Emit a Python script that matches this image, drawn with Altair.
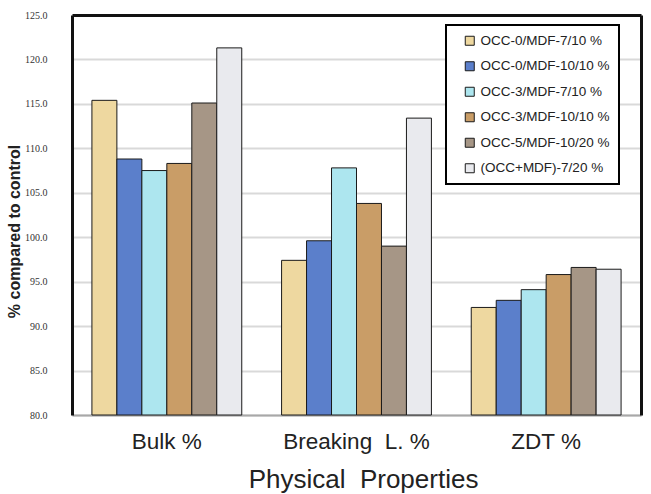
import altair as alt
import pandas as pd

# Physical property groups on the x axis (no-break space keeps the wide gap)
properties = ["Bulk %", "Breaking\u00a0 L. %", "ZDT %"]

# Furnish treatments (legend order)
treatments = [
    "OCC-0/MDF-7/10 %",
    "OCC-0/MDF-10/10 %",
    "OCC-3/MDF-7/10 %",
    "OCC-3/MDF-10/10 %",
    "OCC-5/MDF-10/20 %",
    "(OCC+MDF)-7/20 %",
]

# Values relative to control, one list per property (in treatment order)
bulk = [115.4, 108.8, 107.5, 108.3, 115.1, 121.3]
breaking = [97.4, 99.6, 107.8, 103.8, 99.0, 113.4]
zdt = [92.1, 92.9, 94.1, 95.8, 96.6, 96.4]

colors = ["#EED8A0", "#5B7FCB", "#ADE6EF", "#C99D67", "#A69686", "#E9EAEE"]

y_min, y_max = 80, 125
y_ticks = [80, 85, 90, 95, 100, 105, 110, 115, 120, 125]

frame_color = "#111111"

rows = []
for prop, vals in zip(properties, [bulk, breaking, zdt]):
    for t, v in zip(treatments, vals):
        rows.append({"property": prop, "treatment": t, "value": v})
df = pd.DataFrame(rows)

x_scale = alt.Scale(paddingInner=0.21, paddingOuter=0.105)
y_scale = alt.Scale(domain=[y_min, y_max], nice=False, zero=False)

bars = alt.Chart(df).mark_bar(stroke="#1a1a1a", strokeWidth=1).encode(
    x=alt.X(
        "property:N",
        sort=properties,
        scale=x_scale,
        axis=alt.Axis(
            title="Physical\u00a0 Properties",
            labelAngle=0,
            labelFont="Liberation Sans",
            labelFontSize=22.5,
            labelColor="#222222",
            labelPadding=15,
            ticks=False,
            domain=True,
            domainColor="#a8a8a8",
            domainWidth=2,
            domainOpacity=1,
            titleFont="Liberation Sans",
            titleFontSize=26,
            titleFontWeight="normal",
            titleColor="#222222",
            titleX=291,
            titleY=72,
            titleBaseline="alphabetic",
        ),
    ),
    xOffset=alt.XOffset("treatment:N", sort=treatments),
    y=alt.Y(
        "value:Q",
        scale=y_scale,
        axis=alt.Axis(
            title="% compared to control",
            values=y_ticks,
            format=".1f",
            labelFont="Liberation Serif",
            labelFontSize=10,
            labelColor="#333333",
            labelPadding=25,
            ticks=False,
            domain=True,
            domainColor=frame_color,
            domainWidth=3,
            domainOpacity=1,
            gridColor={
                "condition": {"test": "datum.value >= 125", "value": "transparent"},
                "value": "#d9d9d9",
            },
            gridWidth=2,
            titleFont="Liberation Sans",
            titleFontSize=16,
            titleFontWeight="bold",
            titleColor="#222222",
            titleAngle=270,
            titleAlign="center",
            titleBaseline="middle",
            titleX=-58,
            titleY=216,
        ),
    ),
    y2=alt.datum(y_min),
    fill=alt.Fill(
        "treatment:N",
        sort=treatments,
        scale=alt.Scale(domain=treatments, range=colors),
        legend=alt.Legend(
            title=None,
            orient="none",
            legendX=374,
            legendY=10,
            symbolType="square",
            symbolSize=81,
            symbolStrokeColor="#1a1a1a",
            symbolStrokeWidth=1,
            symbolOffset=8,
            labelFont="Liberation Sans",
            labelFontSize=13.5,
            labelColor="#222222",
            labelOffset=4,
            labelLimit=200,
            rowPadding=10.5,
            padding=9,
            strokeColor="#000000",
            fillColor="#ffffff",
        ),
    ),
)

# Invisible layer that only carries the top and right frame lines
frame = alt.Chart(df).mark_bar(opacity=0).encode(
    x=alt.X(
        "property:N",
        sort=properties,
        scale=x_scale,
        axis=alt.Axis(
            orient="top", title=None, labels=False, ticks=False, grid=False,
            domain=True, domainColor=frame_color, domainWidth=3, domainOpacity=1,
        ),
    ),
    y=alt.Y(
        "value:Q",
        scale=y_scale,
        axis=alt.Axis(
            orient="right", title=None, labels=False, ticks=False, grid=False,
            domain=True, domainColor=frame_color, domainWidth=3, domainOpacity=1,
        ),
    ),
    y2=alt.datum(y_min),
)

chart = alt.layer(bars, frame).resolve_axis(
    x="independent", y="independent"
).properties(
    width=569,
    height=400,
    autosize=alt.AutoSizeParams(type="none"),
    padding={"left": 72, "top": 15, "right": 10, "bottom": 79},
).configure(
    background="#ffffff",
    legend=alt.LegendConfig(strokeWidth=2),
    view=alt.ViewConfig(stroke="transparent"),
)

chart.save("out.html", embed_options={"renderer": "svg", "actions": False})
